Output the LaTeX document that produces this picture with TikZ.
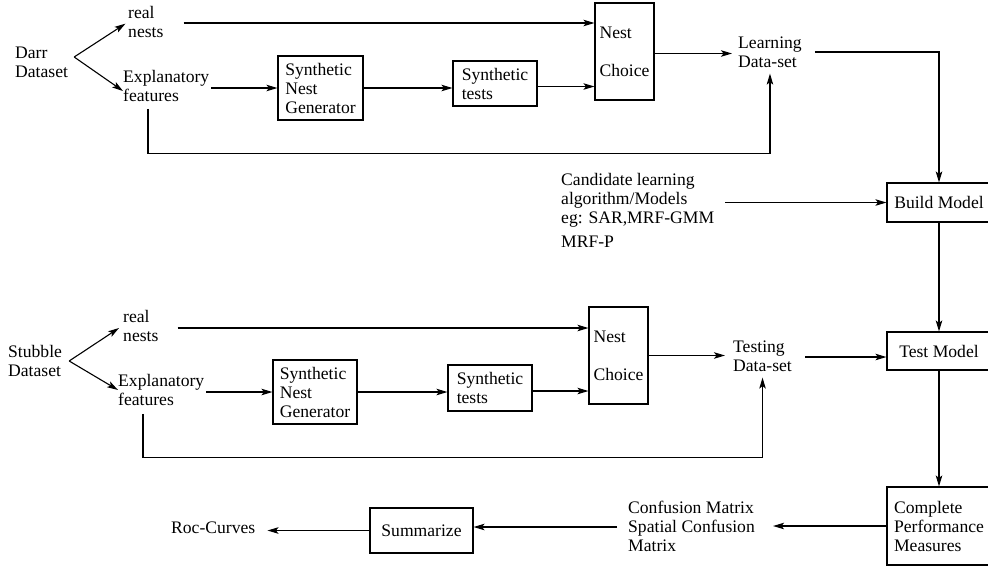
\documentclass[tikz,border=0pt]{standalone}
\usepackage{fontspec}
\setmainfont{Liberation Serif}
\usetikzlibrary{arrows.meta,calc}
\begin{document}
\begin{tikzpicture}[x=1pt,y=-1pt,
  every node/.style={font=\fontsize{17.6}{19}\selectfont, inner sep=0pt},
  txt/.style={align=left, anchor=west},
  box/.style={draw, line width=1.1pt, align=left},
  conn/.style={line width=1.1pt, -{Stealth[length=11pt,width=6.5pt,inset=2.5pt]}}]
\useasboundingbox (0,0) rectangle (988,568);

% ---- top (learning) branch
\node[txt] (darr) at (15,62) {Darr\\Dataset};
\node[txt] (rn1) at (128,22) {real\\nests};
\node[txt] (ex1) at (123,86) {Explanatory\\features};
\node[box, minimum width=85pt, minimum height=64pt] (sng1) at (320.5,88) {Synthetic\\Nest\\Generator};
\node[box, minimum width=84pt, minimum height=45pt] (st1) at (495,83.5) {Synthetic\\tests};
\node[box, minimum width=59pt, minimum height=97pt] (nc1) at (624.5,51.5) {Nest\\[19pt]Choice};
\node[txt] (ld1) at (738,52) {Learning\\Data-set};

\node[txt] (cand) at (561,210) {Candidate learning\\algorithm/Models\\eg: SAR,MRF-GMM\\[5pt]MRF-P};
\node[box, minimum width=104pt, minimum height=39pt] (bm) at (939,202.5) {Build Model};

% ---- bottom (testing) branch
\node[txt] (stub) at (8,361) {Stubble\\Dataset};
\node[txt] (rn2) at (123,326) {real\\nests};
\node[txt] (ex2) at (118,390) {Explanatory\\features};
\node[box, minimum width=84pt, minimum height=64pt] (sng2) at (315,392) {Synthetic\\Nest\\Generator};
\node[box, minimum width=84pt, minimum height=46pt] (st2) at (490,388) {Synthetic\\tests};
\node[box, minimum width=59pt, minimum height=97pt] (nc2) at (618.5,355.5) {Nest\\[19pt]Choice};
\node[txt] (td) at (733,356) {Testing\\Data-set};
\node[box, minimum width=104pt, minimum height=38pt] (tm) at (939,351) {Test Model};

% ---- evaluation
\node[box, minimum width=104pt, minimum height=78pt] (cpm) at (939,526) {Complete\\Performance\\Measures};
\node[txt] (conf) at (628,526) {Confusion Matrix\\Spatial Confusion\\Matrix};
\node[box, minimum width=103pt, minimum height=45pt] (sum) at (421.5,530.5) {Summarize};
\node[txt] (roc) at (171,528) {Roc-Curves};

% ---- connectors, top
\coordinate (f1) at ($(darr.east)+(6,-5)$);
\draw[conn, shorten >=3pt] (f1) -- (rn1.west);
\draw[conn] (f1) -- ($(ex1.west)+(0,5)$);
\draw[conn] ($(rn1.east)+(20,1)$) -- ($(rn1.east -| nc1.west)+(0,1)$);
\draw[conn] ($(ex1.east |- sng1.west)+(2,0)$) -- (sng1.west);
\draw[conn] (sng1.east) -- (sng1.east -| st1.west);
\draw[conn] ($(st1.east)+(0,3)$) -- ($(st1.east -| nc1.west)+(0,3)$);
\draw[conn, shorten >=6pt] ($(nc1.east)+(0,2)$) -- ($(nc1.east -| ld1.west)+(0,2)$);
\draw[conn] ($(ld1.east)+(13,0)$) -| (bm.north);
\draw[conn] ($(ex1.south west)+(25,7)$) -- ++(0,45) -| ($(ld1.south)+(0,6)$);
\draw[conn] ($(cand.west |- bm.west)+(164,0)$) -- (bm.west);
\draw[conn] (bm.south) -- (tm.north);

% ---- connectors, bottom
\coordinate (f2) at ($(stub.east)+(7,0)$);
\draw[conn] (f2) -- ($(rn2.west)+(-4,2)$);
\draw[conn] (f2) -- (ex2.west);
\draw[conn] ($(rn2.east)+(19,2)$) -- ($(rn2.east -| nc2.west)+(0,2)$);
\draw[conn] ($(ex2.east |- sng2.west)+(2,0)$) -- (sng2.west);
\draw[conn] (sng2.east) -- (sng2.east -| st2.west);
\draw[conn] ($(st2.east)+(0,3)$) -- ($(st2.east -| nc2.west)+(0,3)$);
\draw[conn, shorten >=8pt] (nc2.east) -- (nc2.east -| td.west);
\draw[conn] ($(ex2.south west)+(25,8)$) -- ++(0,44) -| ($(td.south)+(0,6)$);
\draw[conn] ($(td.east)+(13,1)$) -- ($(td.east -| tm.west)+(0,1)$);
\draw[conn] (tm.south) -- (cpm.north);

% ---- evaluation connectors
\draw[conn] (cpm.west) -- ($(cpm.west -| conf.east)+(18,0)$);
\draw[conn] ($(conf.west)+(-11,1)$) -- ($(conf.west -| sum.east)+(0,1)$);
\draw[conn] (sum.west) -- ($(sum.west -| roc.east)+(12,0)$);
\end{tikzpicture}
\end{document}
